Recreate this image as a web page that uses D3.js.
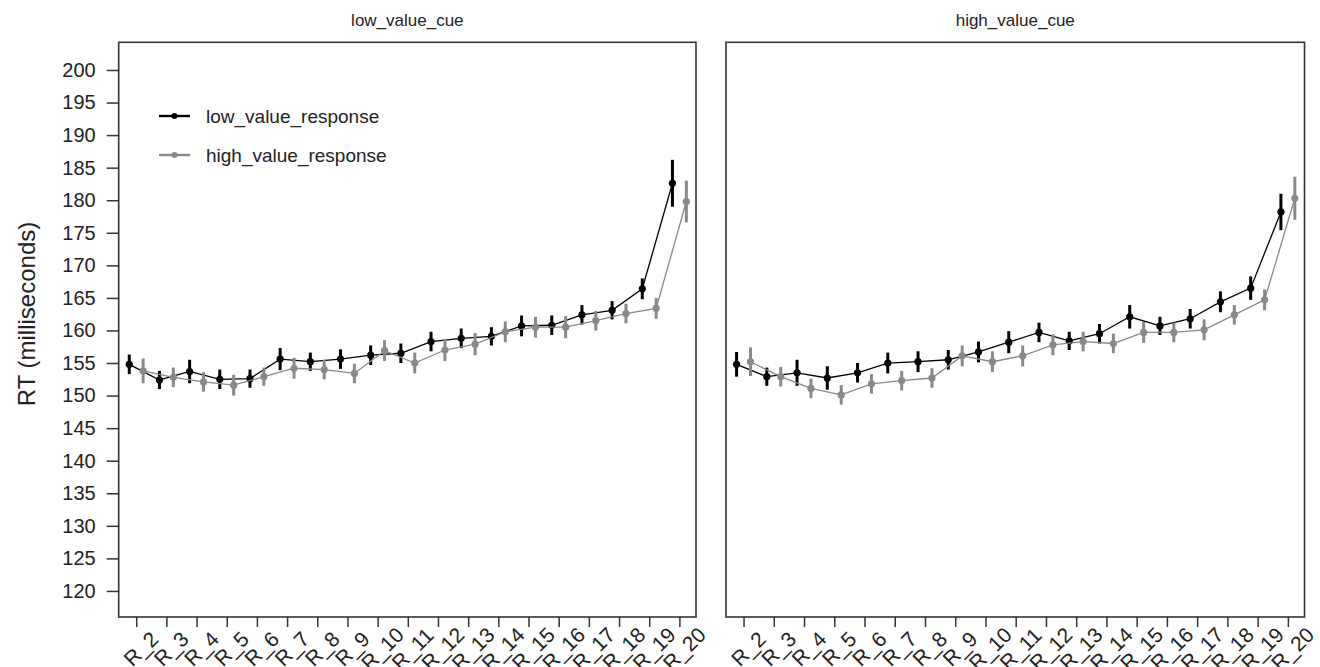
<!DOCTYPE html>
<html>
<head>
<meta charset="utf-8">
<script src="https://cdn.jsdelivr.net/npm/d3@7"></script>
<style>
	body { margin: 0; background: #fff; }
	svg { display: block; font-family: 'Liberation Sans', Arial, sans-serif; }
</style>
</head>
<body>
<svg id="chart" width="1320" height="667"></svg>
<script>
// block labels on the x axis
const blocks = ['R_2', 'R_3', 'R_4', 'R_5', 'R_6', 'R_7', 'R_8', 'R_9', 'R_10', 'R_11',
	'R_12', 'R_13', 'R_14', 'R_15', 'R_16', 'R_17', 'R_18', 'R_19', 'R_20'];
const yTicks = [120, 125, 130, 135, 140, 145, 150, 155, 160, 165, 170, 175, 180, 185, 190, 195, 200];
const panelTitles = ['low_value_cue', 'high_value_cue'];
const seriesNames = ['low_value_response', 'high_value_response'];

// low_value_cue panel
const lowCueLowResp = [154.8, 152.4, 153.7, 152.5, 152.6, 155.6, 155.2, 155.6, 156.2, 156.5,
	158.3, 158.8, 159.1, 160.7, 160.8, 162.4, 163.1, 166.4, 182.6];
const lowCueLowErr = [1.5, 1.4, 1.8, 1.5, 1.4, 1.7, 1.4, 1.5, 1.5, 1.5,
	1.5, 1.5, 1.4, 1.6, 1.5, 1.5, 1.4, 1.6, 3.6];
const lowCueHighResp = [153.8, 152.8, 152.1, 151.6, 152.9, 154.2, 154.0, 153.4, 156.9, 155.0,
	157.0, 157.9, 159.8, 160.5, 160.5, 161.5, 162.6, 163.4, 179.8];
const lowCueHighErr = [1.9, 1.5, 1.5, 1.6, 1.4, 1.6, 1.5, 1.5, 1.6, 1.6,
	1.7, 1.7, 1.6, 1.6, 1.7, 1.5, 1.5, 1.6, 3.2];

// high_value_cue panel
const highCueLowResp = [154.8, 152.9, 153.5, 152.7, 153.5, 155.0, 155.2, 155.5, 156.7, 158.2,
	159.7, 158.4, 159.5, 162.1, 160.7, 161.8, 164.4, 166.5, 178.2];
const highCueLowErr = [1.9, 1.4, 2.0, 1.8, 1.5, 1.6, 1.6, 1.5, 1.6, 1.7,
	1.5, 1.4, 1.5, 1.8, 1.4, 1.5, 1.6, 1.8, 2.8];
const highCueHighResp = [155.2, 152.9, 151.1, 150.1, 151.8, 152.3, 152.7, 156.1, 155.2, 156.1,
	157.8, 158.3, 158.0, 159.7, 159.7, 160.1, 162.4, 164.7, 180.3];
const highCueHighErr = [2.2, 1.5, 1.5, 1.5, 1.5, 1.5, 1.5, 1.6, 1.6, 1.6,
	1.6, 1.5, 1.5, 1.6, 1.5, 1.6, 1.5, 1.6, 3.3];

const colors = {
	low: '#000000',
	high: '#898989',
	box: '#333333',
	text: '#222222',
};

const svg = d3.select('#chart');
const plotTop = 42.3;
const plotBottom = 617;
const dodge = 0.23;

const y = d3.scaleLinear().domain([116, 204.25]).range([plotBottom, plotTop]);

const panels = [
	{ x0: 118.7, x1: 696, title: panelTitles[0],
		series: [
			{ values: lowCueLowResp, err: lowCueLowErr, color: colors.low, off: -dodge },
			{ values: lowCueHighResp, err: lowCueHighErr, color: colors.high, off: dodge },
		] },
	{ x0: 726, x1: 1304.5, title: panelTitles[1],
		series: [
			{ values: highCueLowResp, err: highCueLowErr, color: colors.low, off: -dodge },
			{ values: highCueHighResp, err: highCueHighErr, color: colors.high, off: dodge },
		] },
];

function drawPanel(p, idx) {
	const x = d3.scaleLinear().domain([0.42, 19.55]).range([p.x0, p.x1]);
	const g = svg.append('g');

	g.append('text')
		.attr('x', (p.x0 + p.x1) / 2)
		.attr('y', 26)
		.attr('text-anchor', 'middle')
		.attr('font-size', 17)
		.attr('fill', colors.text)
		.text(p.title);

	// x axis: ticks and rotated labels
	const xAxis = g.append('g')
		.attr('transform', `translate(0,${plotBottom})`)
		.call(d3.axisBottom(x)
			.tickValues(d3.range(1, blocks.length + 1))
			.tickSize(10)
			.tickFormat(''));
	xAxis.select('.domain').remove();
	xAxis.selectAll('.tick line').attr('stroke', colors.box).attr('stroke-width', 1.5);

	g.selectAll('.xlab')
		.data(blocks)
		.join('text')
		.attr('class', 'xlab')
		.attr('transform', (d, i) => `translate(${x(i + 1) + 10},654) rotate(-45)`)
		.attr('text-anchor', 'middle')
		.attr('font-size', 21)
		.attr('fill', colors.text)
		.text(d => d);

	if (idx == 0) {
		const yAxis = g.append('g')
			.attr('transform', `translate(${p.x0},0)`)
			.call(d3.axisLeft(y).tickValues(yTicks).tickSize(12).tickPadding(11));
		yAxis.select('.domain').remove();
		yAxis.selectAll('.tick line').attr('stroke', colors.box).attr('stroke-width', 1.5);
		yAxis.selectAll('.tick text')
			.attr('font-size', 20)
			.attr('font-family', 'Liberation Sans, Arial, sans-serif')
			.attr('fill', colors.text);
	}

	p.series.forEach(s => {
		const line = d3.line()
			.x((d, i) => x(i + 1 + s.off))
			.y(d => y(d));
		g.append('path')
			.datum(s.values)
			.attr('d', line)
			.attr('fill', 'none')
			.attr('stroke', s.color)
			.attr('stroke-width', 1.3);

		g.selectAll(null)
			.data(s.values)
			.join('line')
			.attr('x1', (d, i) => x(i + 1 + s.off))
			.attr('x2', (d, i) => x(i + 1 + s.off))
			.attr('y1', (d, i) => y(d - s.err[i]))
			.attr('y2', (d, i) => y(d + s.err[i]))
			.attr('stroke', s.color)
			.attr('stroke-width', 3);

		g.selectAll(null)
			.data(s.values)
			.join('circle')
			.attr('cx', (d, i) => x(i + 1 + s.off))
			.attr('cy', d => y(d))
			.attr('r', 3.6)
			.attr('fill', s.color);
	});

	g.append('rect')
		.attr('x', p.x0)
		.attr('y', plotTop)
		.attr('width', p.x1 - p.x0)
		.attr('height', plotBottom - plotTop)
		.attr('fill', 'none')
		.attr('stroke', colors.box)
		.attr('stroke-width', 1.6);
}

panels.forEach(drawPanel);

// legend inside the left panel
const legend = svg.append('g');
[colors.low, colors.high].forEach((c, i) => {
	const ly = 116 + i * 39;
	legend.append('line')
		.attr('x1', 159)
		.attr('x2', 190)
		.attr('y1', ly)
		.attr('y2', ly)
		.attr('stroke', c)
		.attr('stroke-width', 2.4);
	legend.append('circle')
		.attr('cx', 174.5)
		.attr('cy', ly)
		.attr('r', 3)
		.attr('fill', c);
	legend.append('text')
		.attr('x', 206)
		.attr('y', ly)
		.attr('dy', '0.35em')
		.attr('font-size', 19)
		.attr('fill', colors.text)
		.text(seriesNames[i]);
});

svg.append('text')
	.attr('transform', 'translate(35,314) rotate(-90)')
	.attr('text-anchor', 'middle')
	.attr('font-size', 24)
	.attr('fill', colors.text)
	.text('RT (milliseconds)');
</script>
</body>
</html>
